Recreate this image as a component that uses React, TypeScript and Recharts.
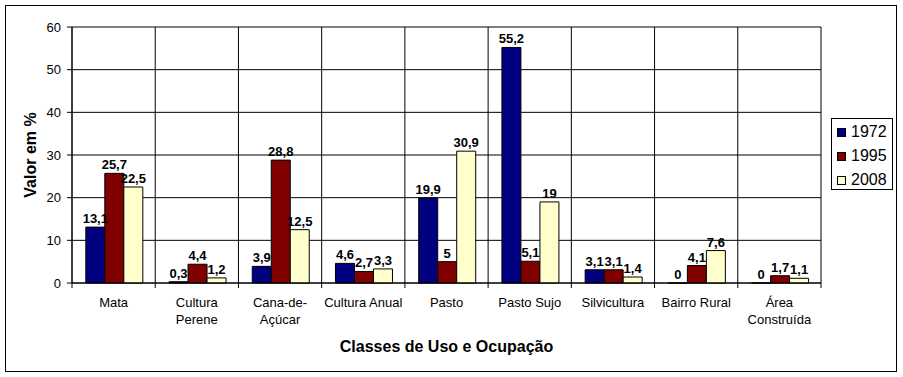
import React from "react";
import {
  BarChart,
  Bar,
  XAxis,
  YAxis,
  CartesianGrid,
  LabelList,
  Legend,
  Label,
} from "recharts";

const categories = [
  "Mata",
  "Cultura Perene",
  "Cana-de-Açúcar",
  "Cultura Anual",
  "Pasto",
  "Pasto Sujo",
  "Silvicultura",
  "Bairro Rural",
  "Área Construída",
];
const tickLines = [
  ["Mata"],
  ["Cultura", "Perene"],
  ["Cana-de-", "Açúcar"],
  ["Cultura Anual"],
  ["Pasto"],
  ["Pasto Sujo"],
  ["Silvicultura"],
  ["Bairro Rural"],
  ["Área", "Construída"],
];
const values1972 = [13.1, 0.3, 3.9, 4.6, 19.9, 55.2, 3.1, 0, 0];
const values1995 = [25.7, 4.4, 28.8, 2.7, 5, 5.1, 3.1, 4.1, 1.7];
const values2008 = [22.5, 1.2, 12.5, 3.3, 30.9, 19, 1.4, 7.6, 1.1];
const yTicks = [0, 10, 20, 30, 40, 50, 60];
const seriesNames = ["1972", "1995", "2008"];
const seriesColors = ["#000080", "#800000", "#FFFFCC"];

const data = categories.map((c, i) => ({
  name: c,
  "1972": values1972[i],
  "1995": values1995[i],
  "2008": values2008[i],
}));

const FONT = "'Liberation Sans', Arial, sans-serif";
const W = 903;
const H = 377;
const M = { top: 27, right: 82, left: 0, bottom: 0 };
const Y_W = 72;
const X_H = 94;
const PLOT_W = W - M.left - M.right - Y_W;
const BAND = PLOT_W / categories.length;

const fmt = (v: any) => String(v).replace(".", ",");

const XTick = (props: any) => {
  const { x, y, index } = props;
  const lines = tickLines[index] || [];
  const left = x - BAND / 2;
  const right = x + BAND / 2;
  return (
    <g>
      <line x1={left} y1={y} x2={left} y2={y + 5} stroke="#000" />
      {index === categories.length - 1 && (
        <line x1={right} y1={y} x2={right} y2={y + 5} stroke="#000" />
      )}
      <text
        x={x}
        y={y + 24}
        textAnchor="middle"
        fontSize={13}
        fontFamily={FONT}
        fill="#000"
      >
        {lines.map((l, i) => (
          <tspan key={i} x={x} dy={i === 0 ? 0 : 17}>
            {l}
          </tspan>
        ))}
      </text>
    </g>
  );
};

const ValueLabel = (props: any) => {
  const { x, y, width, height, value } = props;
  if (value === undefined || value === null) return null;
  const top = Math.min(Number(y), Number(y) + Number(height || 0));
  return (
    <text
      x={Number(x) + Number(width) / 2}
      y={top - 4}
      textAnchor="middle"
      fontSize={13}
      fontWeight="bold"
      fontFamily={FONT}
      fill="#000"
    >
      {fmt(value)}
    </text>
  );
};

const LegendContent = (props: any) => {
  const { payload } = props;
  return (
    <div
      style={{
        width: 62,
        height: 72,
        boxSizing: "border-box",
        border: "1px solid #000",
        background: "#fff",
        paddingTop: 1,
        paddingLeft: 5,
        fontFamily: FONT,
        fontSize: 16,
        color: "#000",
      }}
    >
      {(payload || []).map((p: any, i: number) => (
        <div
          key={i}
          style={{ height: 24, display: "flex", alignItems: "center" }}
        >
          <span
            style={{
              display: "inline-block",
              width: 9,
              height: 9,
              boxSizing: "border-box",
              border: "1px solid #000",
              background: p.color,
              marginRight: 5,
            }}
          />
          <span style={{ lineHeight: "16px" }}>{p.value}</span>
        </div>
      ))}
    </div>
  );
};

const YTitle = (props: any) => {
  const { viewBox } = props;
  const cx = viewBox.x + viewBox.width / 2 - 6;
  const cy = viewBox.y + viewBox.height / 2;
  return (
    <text
      x={cx}
      y={cy}
      transform={`rotate(-90, ${cx}, ${cy})`}
      textAnchor="middle"
      dominantBaseline="central"
      fontSize={16}
      fontWeight="bold"
      fontFamily={FONT}
      fill="#000"
    >
      Valor em %
    </text>
  );
};

export default function App() {
  return (
    <div
      style={{
        position: "absolute",
        left: 0,
        top: 0,
        width: W,
        height: H,
        background: "#fff",
      }}
    >
      <div
        style={{
          position: "absolute",
          left: 5,
          top: 5,
          width: 892,
          height: 367,
          boxSizing: "border-box",
          border: "1px solid #000",
        }}
      />
      <BarChart
        width={W}
        height={H}
        data={data}
        margin={M}
        barCategoryGap="16.6%"
        barGap={0}
        style={{ fontFamily: FONT }}
      >
        <CartesianGrid
          stroke="#000"
          strokeOpacity={1}
          verticalCoordinatesGenerator={({ offset }: any) =>
            categories
              .map((_, i) => offset.left + (i * offset.width) / categories.length)
              .concat([offset.left + offset.width])
          }
        />
        <XAxis
          dataKey="name"
          height={X_H}
          interval={0}
          tickSize={0}
          tickMargin={0}
          tickLine={false}
          axisLine={{ stroke: "#000" }}
          tick={<XTick />}
        >
          <Label
            value="Classes de Uso e Ocupação"
            position="insideBottom"
            offset={25}
            style={{
              fontSize: 16,
              fontWeight: "bold",
              fontFamily: FONT,
              fill: "#000",
            }}
          />
        </XAxis>
        <YAxis
          width={Y_W}
          domain={[0, 60]}
          ticks={yTicks}
          interval={0}
          tickSize={5}
          tickMargin={6}
          axisLine={{ stroke: "#000" }}
          tickLine={{ stroke: "#000" }}
          tick={{ fontSize: 13, fill: "#000", fontFamily: FONT }}
        >
          <Label content={<YTitle />} />
        </YAxis>
        <Legend
          layout="vertical"
          align="center"
          verticalAlign="middle"
          wrapperStyle={{ left: 831, top: 118, width: 62, height: 72 }}
          content={<LegendContent />}
        />
        {seriesNames.map((s, i) => (
          <Bar
            key={s}
            dataKey={s}
            name={s}
            fill={seriesColors[i]}
            stroke="#000"
            strokeWidth={1}
            minPointSize={0.01}
            isAnimationActive={false}
          >
            <LabelList dataKey={s} content={<ValueLabel />} />
          </Bar>
        ))}
      </BarChart>
    </div>
  );
}
